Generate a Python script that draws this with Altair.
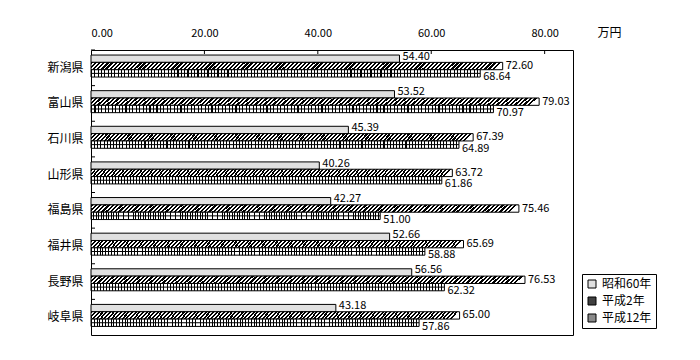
import altair as alt
import pandas as pd

prefs = ["新潟県", "富山県", "石川県", "山形県", "福島県", "福井県", "長野県", "岐阜県"]
series = ["昭和60年", "平成2年", "平成12年"]
s60 = [54.40, 53.52, 45.39, 40.26, 42.27, 52.66, 56.56, 43.18]
h2 = [72.60, 79.03, 67.39, 63.72, 75.46, 65.69, 76.53, 65.00]
h12 = [68.64, 70.97, 64.89, 61.86, 51.00, 58.88, 62.32, 57.86]
x_ticks = [0, 20, 40, 60, 80]
inner_ticks = [20, 40, 60, 80]
unit = "万円"

rows = []
for i, p in enumerate(prefs):
    for s, vals in zip(series, [s60, h2, h12]):
        rows.append({"pref": p, "series": s, "value": vals[i]})
df = pd.DataFrame(rows)

FONT = "Noto Sans CJK JP"


def stripes(n, frac, color, x2=1.0, y2=0.0):
    stops = []
    for i in range(n):
        a = i / n
        b = (i + frac) / n
        c = (i + 1) / n
        stops += [
            {"offset": round(a, 6), "color": color},
            {"offset": round(b, 6), "color": color},
            {"offset": round(b, 6), "color": "white"},
            {"offset": round(c, 6), "color": "white"},
        ]
    return {"gradient": "linear", "x1": 0, "y1": 0, "x2": x2, "y2": y2, "stops": stops}


hatch = stripes(100, 0.55, "black", 1.0, 0.018)
grid = stripes(117, 1 / 3, "black", 1.0, 0.0)

x_enc = alt.X(
    "value:Q",
    scale=alt.Scale(domain=[0, 85], nice=False, zero=True),
    axis=alt.Axis(
        orient="top", values=x_ticks, format=".2f", ticks=False, tickSize=0,
        domain=False, grid=False, labelPadding=12, labelFont=FONT,
        labelFontSize=11, labelColor="black", title=unit, titleX=518,
        titleY=-18, titleAlign="center", titleBaseline="middle",
        titleFont=FONT, titleFontSize=12, titleFontWeight="normal",
        titleColor="black",
    ),
)

y_axis = alt.Axis(
    title=None, orient="left", ticks=False, tickSize=0, domain=False,
    labelPadding=8, labelFontSize=12, labelFont=FONT, labelColor="black",
)
y_scale = alt.Scale(domain=prefs, paddingInner=0, paddingOuter=0)
y_enc = alt.Y("pref:N", scale=y_scale, axis=y_axis)
y_edge = alt.Y("pref:N", scale=y_scale, axis=y_axis, bandPosition=0)
yoff_enc = alt.YOffset(
    "series:N",
    scale=alt.Scale(domain=series, paddingInner=0, paddingOuter=0.93, align=0.37),
)

base = alt.Chart(df)


def ser(i):
    return base.transform_filter(alt.datum.series == series[i])


bar1 = ser(0).mark_bar(fill="#e0e0e0", stroke="black", strokeWidth=1).encode(
    x=x_enc, y=y_enc, yOffset=yoff_enc)
bar2 = ser(1).mark_bar(fill=hatch, stroke="black", strokeWidth=1).encode(
    x=x_enc, y=y_enc, yOffset=yoff_enc)
bar3 = ser(2).mark_bar(fill=grid, stroke="black", strokeWidth=1).encode(
    x=x_enc, y=y_enc, yOffset=yoff_enc)
mid3 = ser(2).mark_rule(color="black", strokeWidth=1).encode(
    x=x_enc, x2=alt.datum(0), y=y_enc, yOffset=yoff_enc)

texts = []
for i, dy in enumerate([-2, 0, 4]):
    texts.append(
        ser(i).mark_text(align="left", baseline="middle", dx=3, dy=dy,
                         font=FONT, fontSize=11, color="black").encode(
            x=x_enc, y=y_enc, yOffset=yoff_enc,
            text=alt.Text("value:Q", format=".2f"))
    )

xticks = alt.Chart(pd.DataFrame({"value": inner_ticks})).mark_rule(
    color="black", strokeWidth=1).encode(x=x_enc, y=alt.value(0), y2=alt.value(4))
yticks = alt.Chart(pd.DataFrame({"pref": prefs})).mark_rule(
    color="black", strokeWidth=1).encode(y=y_edge, x=alt.value(0), x2=alt.value(4))

legend_layer = base.transform_filter("datum.value < 0").mark_point(
    shape="square", filled=True, stroke="black", strokeWidth=1).encode(
    x=x_enc, y=y_enc,
    fill=alt.Fill(
        "series:N",
        scale=alt.Scale(domain=series, range=["#e0e0e0", "#404040", "#8a8a8a"]),
        legend=alt.Legend(
            title=None, orient="none", legendX=491, legendY=224,
            direction="vertical", padding=4, strokeColor="black",
            fillColor="white", symbolType="square", symbolSize=64,
            symbolStrokeColor="black", symbolStrokeWidth=1, symbolOpacity=1,
            labelFont=FONT, labelFontSize=12, labelColor="black",
            rowPadding=5, labelOffset=4, cornerRadius=0,
        ),
    ),
)

chart = alt.layer(
    bar1, bar2, bar3, mid3, *texts, xticks, yticks, legend_layer
).properties(
    width=482, height=285,
    padding={"left": 83, "top": 42, "right": 110, "bottom": 15},
    autosize=alt.AutoSizeParams(type="none"),
    background="white",
).configure_view(stroke="black", strokeWidth=1)

chart.save("out.html", embed_options={"renderer": "svg", "actions": False})
